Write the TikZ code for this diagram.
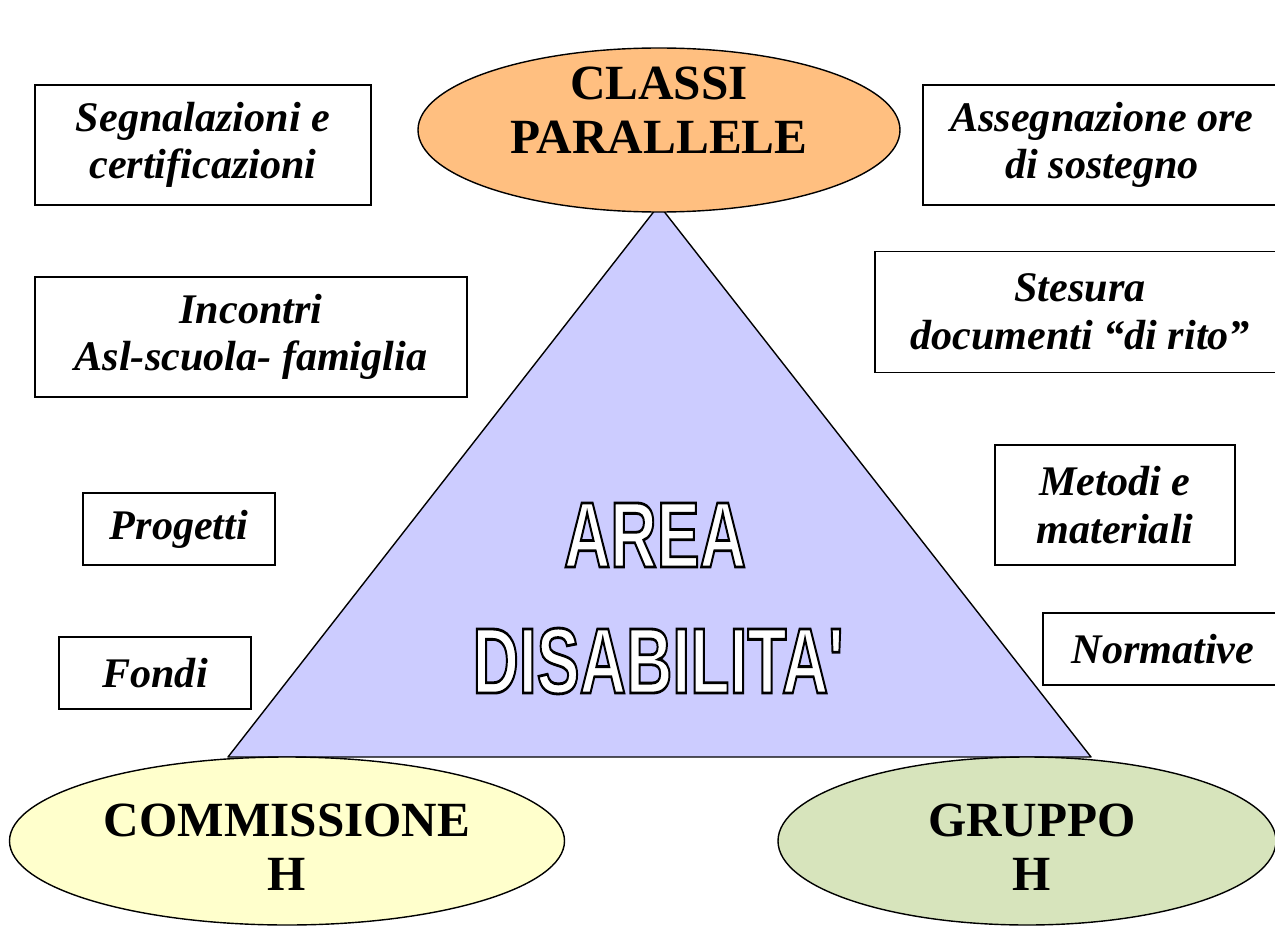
\documentclass[tikz,border=0pt]{standalone}
\usepackage{fontspec}
\setmainfont{Liberation Serif}
\newfontfamily\areafont{Liberation Sans}
\usetikzlibrary{shapes.geometric}
\definecolor{arancio}{RGB}{255,191,128}
\definecolor{giallo}{RGB}{255,255,204}
\definecolor{verde}{RGB}{215,228,188}
\definecolor{lilla}{RGB}{204,204,255}
\newcommand{\contorno}[1]{{\color{white}\special{pdf:literal direct 2 Tr 1.6 w 0 G}#1\special{pdf:literal direct 0 Tr}}}
\tikzset{
  voce/.style 2 args={draw, line width=1pt, inner sep=0pt, align=center,
    minimum width=#1*0.02cm, minimum height=#2*0.02cm,
    font=\fontsize{24}{27}\selectfont\bfseries\itshape},
  polo/.style n args={3}{ellipse, draw, line width=0.8pt, fill=#1, inner sep=0pt,
    minimum width=#2*0.02cm, minimum height=#3*0.02cm},
  nome/.style={align=center, inner sep=0pt, font=\fontsize{28}{31}\selectfont\bfseries},
  scritta/.style={inner sep=0pt, font=\areafont\bfseries\fontsize{53}{53}\selectfont}
}

\begin{document}
\begin{tikzpicture}[x=0.02cm, y=-0.02cm]
		\useasboundingbox (0,0) rectangle (1275,926);
		\coordinate (apice) at (659,205);
		\coordinate (sx) at (228,757);
		\coordinate (dx) at (1091,757);
		\filldraw[fill=lilla, line width=0.8pt, line join=round] (apice) -- (sx) -- (dx) -- cycle;
		\node[polo={arancio}{482}{164}] (classi) at (659,130) {};
		\node[nome] (classiTesto) at (659,110) {CLASSI\\PARALLELE};
		\node[polo={giallo}{555}{168}] (commissione) at (287,841) {};
		\node[nome] (commissioneTesto) at (287,847) {COMMISSIONE\\H};
		\node[polo={verde}{498}{168}] (gruppo) at (1027,841) {};
		\node[nome] (gruppoTesto) at (1032,847) {GRUPPO\\H};
		\node[scritta] (area) at (655,535) {\scalebox{0.69}[1]{\contorno{AREA}}};
		\node[scritta] (disab) at (658,661) {\scalebox{0.69}[1]{\contorno{DISABILITA'}}};
		\node[voce={336}{120}] (segnalazioni) at (203,145) {Segnalazioni e\\certificazioni};
		\node[voce={432}{120}] (incontri) at (251,337) {Incontri\\Asl-scuola- famiglia};
		\node[voce={192}{72}] (progetti) at (179,529) {Progetti};
		\node[voce={192}{72}] (fondi) at (155,673) {Fondi};
		\node[voce={358}{120}] (assegnazione) at (1102,145) {Assegnazione ore\\di sostegno};
		\node[voce={410}{121}] (stesura) at (1080,312) {Stesura\\documenti “di rito”};
		\node[voce={240}{120}] (metodi) at (1115,505) {Metodi e\\materiali};
		\node[voce={240}{72}] (normative) at (1163,649) {Normative};
	\end{tikzpicture}
\end{document}
